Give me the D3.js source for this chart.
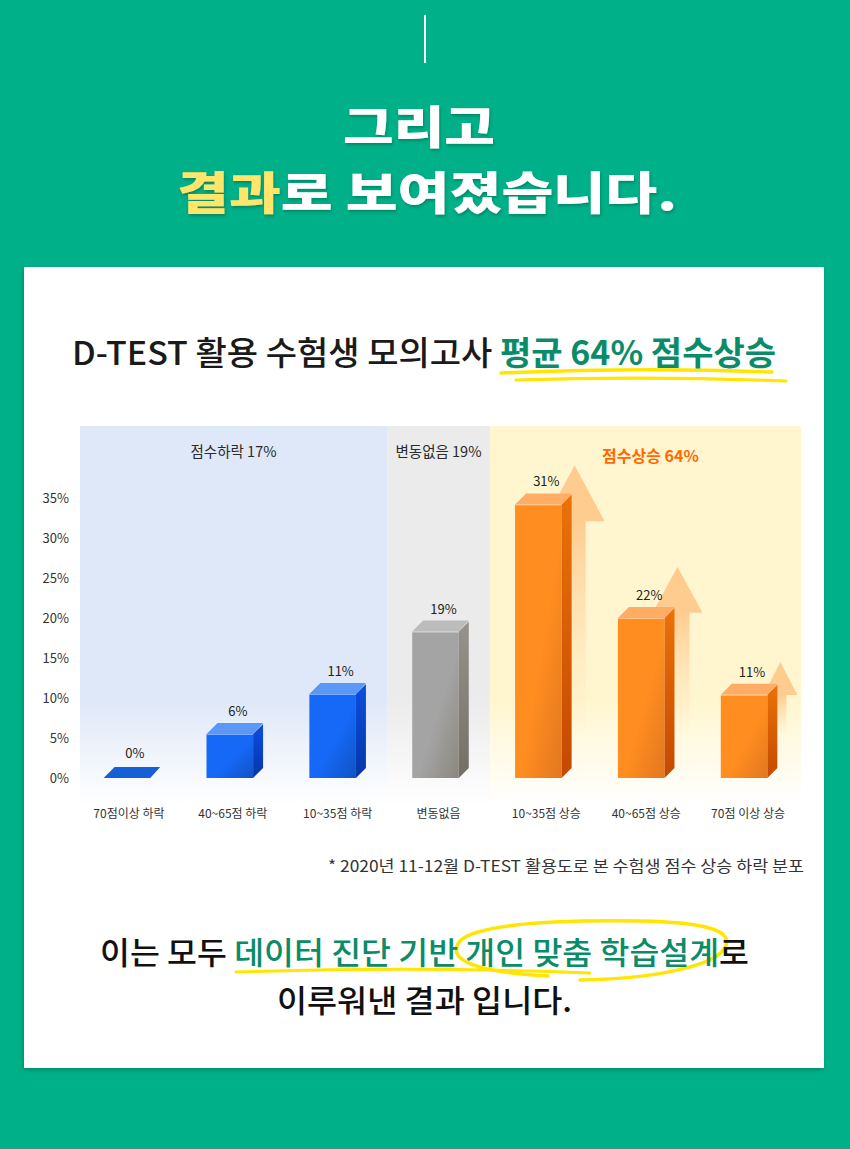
<!DOCTYPE html>
<html>
<head>
<meta charset="utf-8">
<script src="https://cdn.jsdelivr.net/npm/d3@7"></script>
<style>
  html, body { margin: 0; padding: 0; background: #00b088; }
  svg { display: block; }
  text { font-family: "Noto Sans CJK KR", "Noto Sans", sans-serif; }
</style>
</head>
<body>
<svg id="chart" width="850" height="1149"></svg>
<script>
// ---------------- data ----------------
const categories = ["70점이상 하락", "40~65점 하락", "10~35점 하락", "변동없음", "10~35점 상승", "40~65점 상승", "70점 이상 상승"];
const shareLabels = ["0%", "6%", "11%", "19%", "31%", "22%", "11%"];      // printed values
const barLevels = [0, 5.5, 10.5, 18.3, 34.2, 20, 10.4];                   // bar tops read against the axis
const barGroups = ["down", "down", "down", "same", "up", "up", "up"];
const arrowTops = [null, null, null, null, 39.1, 26.4, 14.5];             // decorative rising arrows (axis units)
const yTicks = [0, 5, 10, 15, 20, 25, 30, 35];
const yTickLabels = ["0%", "5%", "10%", "15%", "20%", "25%", "30%", "35%"];
const panelTitles = ["점수하락 17%", "변동없음 19%", "점수상승 64%"];
const panelFirst = [0, 3, 4];
const panelLast = [2, 3, 6];
const panelGroups = ["down", "same", "up"];

// ---------------- setup ----------------
const svg = d3.select("#chart");
const W = 850, H = 1149;
const FONT = '"Noto Sans CJK KR", "Noto Sans", sans-serif';
const green = "#0b8c68";
const defs = svg.append("defs");

// background
svg.append("rect").attr("width", W).attr("height", H).attr("fill", "#00b088");

// filters
const sh = defs.append("filter").attr("id", "txtShadow").attr("x", "-10%").attr("y", "-20%").attr("width", "120%").attr("height", "150%");
sh.append("feDropShadow").attr("dx", 1).attr("dy", 2).attr("stdDeviation", 1.6).attr("flood-color", "#00563f").attr("flood-opacity", 0.45);
const cs = defs.append("filter").attr("id", "cardShadow").attr("x", "-5%").attr("y", "-5%").attr("width", "110%").attr("height", "110%");
cs.append("feDropShadow").attr("dx", -1).attr("dy", 2).attr("stdDeviation", 2).attr("flood-color", "#004030").attr("flood-opacity", 0.35);

// top decoration line
svg.append("line").attr("x1", 425).attr("x2", 425).attr("y1", 15).attr("y2", 63)
  .attr("stroke", "#fff").attr("stroke-width", 2);

// headline
svg.append("text").attr("x", 343).attr("y", 144).attr("textLength", 152).attr("lengthAdjust", "spacingAndGlyphs")
  .attr("font-size", 45).attr("font-weight", 900).attr("fill", "#fff").attr("filter", "url(#txtShadow)")
  .text("그리고");
const h2 = svg.append("text").attr("x", 177).attr("y", 210).attr("textLength", 500).attr("lengthAdjust", "spacingAndGlyphs")
  .attr("font-size", 45).attr("font-weight", 900).attr("fill", "#fff").attr("filter", "url(#txtShadow)");
h2.append("tspan").attr("fill", "#ffe66a").text("결과");
h2.append("tspan").text("로 보여졌습니다.");

// card
svg.append("rect").attr("x", 24).attr("y", 267).attr("width", 800).attr("height", 801)
  .attr("fill", "#fff").attr("filter", "url(#cardShadow)");

// chart title
svg.append("path").attr("d", "M501,373 Q640,367 772,372").attr("fill", "none")
  .attr("stroke", "#ffe500").attr("stroke-width", 3.5).attr("stroke-linecap", "round");
svg.append("path").attr("d", "M516,380 Q650,376 786,381").attr("fill", "none")
  .attr("stroke", "#ffe500").attr("stroke-width", 3.2).attr("stroke-linecap", "round");
const t1 = svg.append("text").attr("x", 72).attr("y", 365).attr("textLength", 704).attr("lengthAdjust", "spacingAndGlyphs")
  .attr("font-size", 33).attr("font-weight", 500).attr("fill", "#1a1a1a");
t1.append("tspan").text("D-TEST 활용 수험생 모의고사 ");
t1.append("tspan").attr("fill", green).attr("font-weight", 700).text("평균 64% 점수상승");

// ---------------- scales ----------------
const x = d3.scaleBand().domain(categories).range([80, 801]).paddingInner(0.45).paddingOuter(0.23);
const y = d3.scaleLinear().domain([0, 35]).range([778, 498]);
const depth = 10;
const fw = x.bandwidth() - depth;
const step = x.step();
const gap = step - x.bandwidth();

// panels
const panelTop = 426, panelBottom = 806;
const panelColors = { down: "#dfe8f8", same: "#ebebeb", up: "#fff6d0" };
panelGroups.forEach((g, i) => {
  const gr = defs.append("linearGradient").attr("id", "pg" + i).attr("x1", 0).attr("y1", 0).attr("x2", 0).attr("y2", 1);
  gr.append("stop").attr("offset", "0").attr("stop-color", panelColors[g]);
  gr.append("stop").attr("offset", "0.72").attr("stop-color", panelColors[g]);
  gr.append("stop").attr("offset", "1").attr("stop-color", "#ffffff");
});
panelTitles.forEach((t, i) => {
  const x0 = panelFirst[i] === 0 ? 80 : x(categories[panelFirst[i]]) - gap / 2 - 2;
  const x1 = panelLast[i] === categories.length - 1 ? 801 : x(categories[panelLast[i]]) + x.bandwidth() + gap / 2 - 2;
  svg.append("rect").attr("x", x0).attr("y", panelTop).attr("width", x1 - x0).attr("height", panelBottom - panelTop)
    .attr("fill", `url(#pg${i})`);
  const up = panelGroups[i] === "up";
  svg.append("text").attr("x", (x0 + x1) / 2 + (up ? 5 : 0)).attr("y", up ? 462 : 457)
    .attr("text-anchor", "middle").attr("font-size", up ? 16 : 14.5).attr("font-weight", up ? 700 : 400)
    .attr("fill", up ? "#ff6a00" : "#2a2a2a").text(t);
});

// y axis labels
const yAxis = d3.axisLeft(y).tickValues(yTicks).tickFormat((d, i) => yTickLabels[i]).tickSize(0).tickPadding(0);
const ya = svg.append("g").attr("transform", "translate(69,0)").call(yAxis);
ya.select(".domain").remove();
ya.selectAll("text").attr("font-family", FONT).attr("font-size", 13).attr("fill", "#333").attr("dy", "0.35em");

// arrows
categories.forEach((c, i) => {
  if (arrowTops[i] == null) return;
  const cx = x(c) + fw + 13;
  const tip = y(arrowTops[i]);
  const headH = [56, 46, 33][i - 4];
  const hw = [30, 25, 17][i - 4];
  const sw = [11, 12, 6][i - 4];
  const fadeEnd = 735;
  const gid = "ag" + i;
  const gr = defs.append("linearGradient").attr("id", gid).attr("gradientUnits", "userSpaceOnUse")
    .attr("x1", 0).attr("x2", 0).attr("y1", tip).attr("y2", fadeEnd);
  const baseOff = headH / (fadeEnd - tip);
  gr.append("stop").attr("offset", 0).attr("stop-color", "#ffcc90").attr("stop-opacity", 1);
  gr.append("stop").attr("offset", baseOff).attr("stop-color", "#ffcc90").attr("stop-opacity", 1);
  gr.append("stop").attr("offset", 1).attr("stop-color", "#ffe2b8").attr("stop-opacity", 0);
  const p = d3.path();
  p.moveTo(cx, tip);
  p.lineTo(cx + hw, tip + headH);
  p.lineTo(cx + sw, tip + headH);
  p.lineTo(cx + sw, fadeEnd);
  p.lineTo(cx - sw, fadeEnd);
  p.lineTo(cx - sw, tip + headH);
  p.lineTo(cx - hw, tip + headH);
  p.closePath();
  svg.append("path").attr("d", p.toString()).attr("fill", `url(#${gid})`);
});

// bar gradients
const palettes = {
  down: { f0: "#1569f6", f1: "#1152c6", s0: "#0c4ee0", s1: "#0636a8", top: "#5b97f7", flat: "#175fd6" },
  same: { f0: "#a4a4a4", f1: "#8b877e", s0: "#96938d", s1: "#746f63", top: "#bdbcbc", flat: "#9a9a9a" },
  up:   { f0: "#ff8d20", f1: "#e2771e", s0: "#ea7208", s1: "#c44900", top: "#ffad66", flat: "#ff8d20" }
};
Object.entries(palettes).forEach(([k, p]) => {
  const gf = defs.append("linearGradient").attr("id", "front-" + k).attr("x1", 0).attr("y1", 0).attr("x2", 1).attr("y2", 1);
  gf.append("stop").attr("offset", 0).attr("stop-color", p.f0);
  gf.append("stop").attr("offset", 0.55).attr("stop-color", p.f0);
  gf.append("stop").attr("offset", 1).attr("stop-color", p.f1);
  const gs = defs.append("linearGradient").attr("id", "side-" + k).attr("x1", 0).attr("y1", 0).attr("x2", 0).attr("y2", 1);
  gs.append("stop").attr("offset", 0).attr("stop-color", p.s0);
  gs.append("stop").attr("offset", 1).attr("stop-color", p.s1);
});

// bars
const bars = svg.append("g");
categories.forEach((c, i) => {
  const g = barGroups[i];
  const pal = palettes[g];
  const x0 = x(c);
  const yt = y(barLevels[i]);
  const yb = y(0);
  const h = yb - yt;
  const bg = bars.append("g");
  if (h > 0) {
    bg.append("rect").attr("x", x0).attr("y", yt).attr("width", fw).attr("height", h).attr("fill", `url(#front-${g})`);
    bg.append("polygon")
      .attr("points", [[x0 + fw, yt], [x0 + fw + depth, yt - depth], [x0 + fw + depth, yb - depth], [x0 + fw, yb]].join(" "))
      .attr("fill", `url(#side-${g})`);
  }
  bg.append("polygon")
    .attr("points", [[x0, yt], [x0 + depth + 1, yt - depth - 1], [x0 + fw + depth, yt - depth - 1], [x0 + fw, yt]].join(" "))
    .attr("fill", h > 0 ? pal.top : pal.flat);
  if (h > 0) {
    bg.append("line").attr("x1", x0).attr("x2", x0 + fw).attr("y1", yt + 0.5).attr("y2", yt + 0.5)
      .attr("stroke", "#ffffff").attr("stroke-opacity", 0.45).attr("stroke-width", 1);
  }
  // value label
  svg.append("text").attr("x", x0 + x.bandwidth() / 2 + 3).attr("y", yt - depth - (h > 0 ? 8 : 10))
    .attr("text-anchor", "middle").attr("font-size", 13).attr("fill", "#222").text(shareLabels[i]);
});

// x axis labels
const xAxis = d3.axisBottom(x).tickSize(0).tickPadding(0);
const xa = svg.append("g").attr("transform", "translate(0,818)").call(xAxis);
xa.select(".domain").remove();
xa.selectAll("text").attr("font-family", FONT).attr("font-size", 12).attr("fill", "#333").attr("dy", 0)
  .attr("dx", (d, i) => [-3, -2, 0, -2, 3, 0, -1][i]);

// footnote
svg.append("text").attr("x", 328).attr("y", 872).attr("textLength", 476).attr("lengthAdjust", "spacingAndGlyphs")
  .attr("font-size", 16).attr("font-weight", 400).attr("fill", "#333")
  .text("* 2020년 11-12월 D-TEST 활용도로 본 수험생 점수 상승 하락 분포");

// bottom statement
svg.append("path").attr("d", "M236,972 Q420,966 590,973").attr("fill", "none")
  .attr("stroke", "#ffe500").attr("stroke-width", 3).attr("stroke-linecap", "round");
svg.append("path")
  .attr("d", "M548,976 C470,972 446,958 460,941 C478,923 560,920 640,921 C702,922 737,930 724,949 C712,967 650,979 580,980")
  .attr("fill", "none").attr("stroke", "#ffe500").attr("stroke-width", 3.5).attr("stroke-linecap", "round");
const b1 = svg.append("text").attr("x", 100).attr("y", 964).attr("textLength", 649).attr("lengthAdjust", "spacingAndGlyphs")
  .attr("font-size", 31).attr("font-weight", 500).attr("fill", "#111");
b1.append("tspan").text("이는 모두 ");
b1.append("tspan").attr("fill", green).text("데이터 진단 기반 개인 맞춤 학습설계");
b1.append("tspan").text("로");
svg.append("text").attr("x", 277).attr("y", 1012).attr("textLength", 295).attr("lengthAdjust", "spacingAndGlyphs")
  .attr("font-size", 31).attr("font-weight", 500).attr("fill", "#111").text("이루워낸 결과 입니다.");
</script>
</body>
</html>
